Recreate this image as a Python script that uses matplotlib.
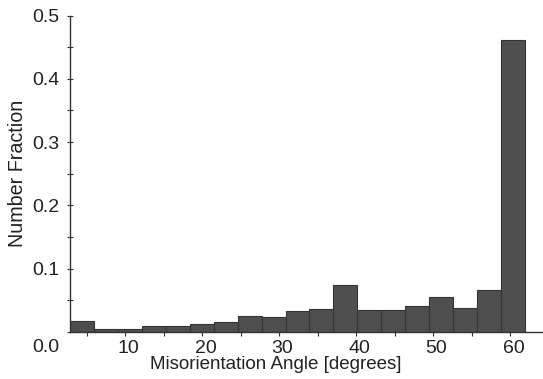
import matplotlib
matplotlib.use("Agg")
import matplotlib.pyplot as plt
from matplotlib.ticker import MultipleLocator
from matplotlib.transforms import ScaledTranslation
import numpy as np

# Data: histogram of misorientation angles
bin_start = 2.8
bin_width = 3.11
fractions = [0.0174, 0.004, 0.004, 0.0095, 0.0095, 0.013, 0.016, 0.025, 0.023,
             0.033, 0.037, 0.074, 0.035, 0.034, 0.041, 0.056, 0.038, 0.067, 0.462]
x_ticks = [10, 20, 30, 40, 50, 60]
y_ticks = [0.0, 0.1, 0.2, 0.3, 0.4, 0.5]

plt.rcParams['font.family'] = ['Liberation Sans', 'DejaVu Sans']
FONT = 'Liberation Sans'

fig = plt.figure(figsize=(5.43, 3.79), dpi=100)
ax = fig.add_axes([70/543, 47/379, 473/543, (332-15.5)/379])

lefts = bin_start + bin_width * np.arange(len(fractions))
ax.bar(lefts, fractions, width=bin_width, align='edge', color='#4f4f4f',
       edgecolor='#353535', linewidth=0.8)

ax.set_xlim(bin_start, bin_start + 473/7.7)
ax.set_ylim(0, 0.5)
ax.set_xticks(x_ticks)
ax.set_yticks(y_ticks)
ax.set_yticklabels([f"{v:.1f}" for v in y_ticks])
ax.xaxis.set_minor_locator(MultipleLocator(5))
ax.yaxis.set_minor_locator(MultipleLocator(0.05))

for s in ['top', 'right']:
    ax.spines[s].set_visible(False)
for s in ['left', 'bottom']:
    ax.spines[s].set_color('#333333')
    ax.spines[s].set_linewidth(1.0)

ax.tick_params(axis='y', which='both', direction='inout', length=5, width=0.8,
               labelsize=14, colors='#333333', labelcolor='#222222', pad=5,
               labelfontfamily=FONT)
ax.tick_params(axis='x', which='both', direction='out', length=3, width=0.8,
               labelsize=14, colors='#333333', labelcolor='#222222', pad=3,
               labelfontfamily=FONT)

# shift tick labels slightly as in reference
for lbl in ax.get_xticklabels():
    lbl.set_fontfamily(FONT)
    lbl.set_transform(lbl.get_transform() + ScaledTranslation(0.03, 0, fig.dpi_scale_trans))
ylbls = ax.get_yticklabels()
for lbl in ylbls:
    lbl.set_fontfamily(FONT)
ylbls[0].set_transform(ylbls[0].get_transform() + ScaledTranslation(0, -0.13, fig.dpi_scale_trans))

ax.set_xlabel('Misorientation Angle [degrees]', fontsize=13.5, color='#222222', family=FONT)
ax.xaxis.set_label_coords((276 - 70) / 473, -0.075)
ax.xaxis.label.set_verticalalignment('top')

ax.set_ylabel('Number Fraction', fontsize=14.2, color='#222222', family=FONT)
ax.yaxis.set_label_coords(-(70 - 17.5) / 473, 0.5)
ax.yaxis.label.set_verticalalignment('center')

fig.savefig('out.png', dpi=100)
